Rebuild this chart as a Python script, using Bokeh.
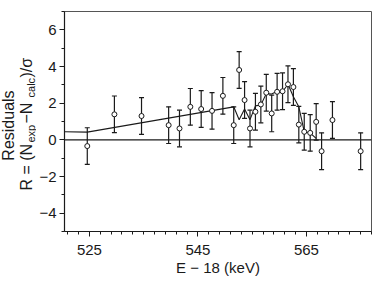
import math
from bokeh.plotting import figure
from bokeh.layouts import row
from bokeh.models import ColumnDataSource, Whisker, TeeHead, FixedTicker, Span, Range1d
from bokeh.core.properties import value
from bokeh.embed import file_html
from bokeh.resources import INLINE

# ---- data ----
energy = [524.6, 529.6, 534.6, 539.6, 541.6, 543.6, 545.6, 547.6, 549.6,
          551.6, 552.6, 553.6, 554.6, 555.6, 556.6, 557.6, 558.6, 559.6,
          560.6, 561.6, 562.6, 563.6, 564.6, 565.7, 566.8, 567.8, 569.8, 575.0]
residual = [-0.34, 1.39, 1.30, 0.80, 0.62, 1.80, 1.68, 1.58, 2.40,
            0.80, 3.81, 2.17, 0.62, 1.53, 1.93, 2.57, 1.44, 2.62,
            2.65, 3.03, 2.88, 0.83, 0.44, 0.38, 0.98, -0.62, 1.08, -0.62]
sigma = [1.0, 1.0, 1.0, 1.0, 1.0, 1.0, 1.0, 1.0, 1.0,
         1.0, 1.0, 1.0, 1.0, 1.0, 1.0, 1.0, 1.0, 1.0,
         1.0, 1.0, 1.0, 1.0, 1.0, 1.0, 1.0, 1.0, 1.0, 1.0]

model_energy = [520.4, 524.6, 551.6, 552.6, 553.6, 554.6, 555.6, 556.6, 557.6,
                558.6, 559.6, 560.6, 561.6, 562.6, 563.6, 564.6, 565.7, 566.8]
model_residual = [0.44, 0.42, 1.80, 1.10, 1.68, 1.10, 1.85, 1.90, 2.52,
                  2.50, 2.65, 2.62, 3.03, 2.35, 1.80, 0.45, 0.37, 0.08]

x_major = [525, 545, 565]
x_minor = list(range(521, 578, 2))
y_major = [-4, -2, 0, 2, 4, 6]
y_minor = [-5, -3, -1, 1, 3, 5, 7]
y_tick_text = {-4: "\u22124", -2: "\u22122", 0: "0", 2: "2", 4: "4", 6: "6"}
x_title = "E \u2212 18 (keV)"

# y-axis title pieces (main text and subscripts)
ytitle_outer = "Residuals"
ytitle_main = ["R = (N", " \u2212N", ")/\u03c3"]
ytitle_subs = ["exp", "calc"]

FONT = "Liberation Sans"
INK = "#1a1a1a"

src = ColumnDataSource(dict(
    x=energy, y=residual,
    upper=[r + s for r, s in zip(residual, sigma)],
    lower=[r - s for r, s in zip(residual, sigma)],
))

yr = Range1d(-5, 7)

p = figure(width=346, height=291,
           x_range=Range1d(520.4, 577.0), y_range=yr,
           output_backend="svg", toolbar_location=None,
           min_border_left=27, min_border_right=11,
           min_border_top=11, min_border_bottom=60)

p.xgrid.visible = False
p.ygrid.visible = False
p.outline_line_color = "#555555"
p.outline_line_width = 1
p.background_fill_color = "white"
p.border_fill_color = "white"

# axes
p.xaxis.ticker = FixedTicker(ticks=x_major, minor_ticks=x_minor)
p.yaxis.ticker = FixedTicker(ticks=y_major, minor_ticks=y_minor)
p.yaxis.major_label_overrides = y_tick_text
for ax in (p.xaxis[0], p.yaxis[0]):
    ax.axis_line_color = INK
    ax.axis_line_width = 1.2
    ax.major_tick_line_color = INK
    ax.minor_tick_line_color = INK
    ax.major_tick_in = 0
    ax.major_tick_out = 5
    ax.minor_tick_in = 0
    ax.minor_tick_out = 3
    ax.major_label_text_font = FONT
    ax.major_label_text_font_size = "15px"
    ax.major_label_text_color = INK
p.xaxis.major_label_standoff = 8
p.yaxis.major_label_standoff = 3
p.xaxis.axis_label = x_title
p.xaxis.axis_label_text_font = FONT
p.xaxis.axis_label_text_font_size = "15px"
p.xaxis.axis_label_text_font_style = "normal"
p.xaxis.axis_label_text_color = INK
p.xaxis.axis_label_standoff = 1

# zero line
p.add_layout(Span(location=0, dimension="width", line_color=INK, line_width=1.2))

# model curve
p.line(model_energy, model_residual, line_color=INK, line_width=1.1)

# error bars
p.add_layout(Whisker(base="x", upper="upper", lower="lower", source=src,
                     line_color=INK, line_width=1.2,
                     upper_head=TeeHead(size=5, line_color=INK, line_width=1.2),
                     lower_head=TeeHead(size=5, line_color=INK, line_width=1.2)))

# points
p.scatter("x", "y", source=src, marker="circle", size=5,
          fill_color="white", line_color=INK, line_width=1)

# ---- narrow panel holding the rotated y-axis title ----
t = figure(width=36, height=291, x_range=Range1d(0, 36), y_range=yr,
           output_backend="svg", toolbar_location=None,
           x_axis_location=None, y_axis_location=None,
           min_border_left=0, min_border_right=0,
           min_border_top=11, min_border_bottom=60)
t.grid.visible = False
t.outline_line_color = None
t.background_fill_color = "white"
t.border_fill_color = "white"

t.text(x=[8], y=[0.78], text=[ytitle_outer], angle=math.pi / 2,
       text_align="center", text_baseline="middle",
       text_font=value(FONT), text_font_size=value("16px"), text_color=INK)
t.text(x=[26, 26, 26], y=[-2.77, 0.89, 3.40], text=ytitle_main, angle=math.pi / 2,
       text_align="left", text_baseline="middle",
       text_font=value(FONT), text_font_size=value("16px"), text_color=INK)
t.text(x=[30.5, 30.5], y=[-0.15, 2.31], text=ytitle_subs, angle=math.pi / 2,
       text_align="left", text_baseline="middle",
       text_font=value(FONT), text_font_size=value("11px"), text_color=INK)

layout = row(t, p, spacing=0)
open("out.html", "w").write(file_html(layout, INLINE))
